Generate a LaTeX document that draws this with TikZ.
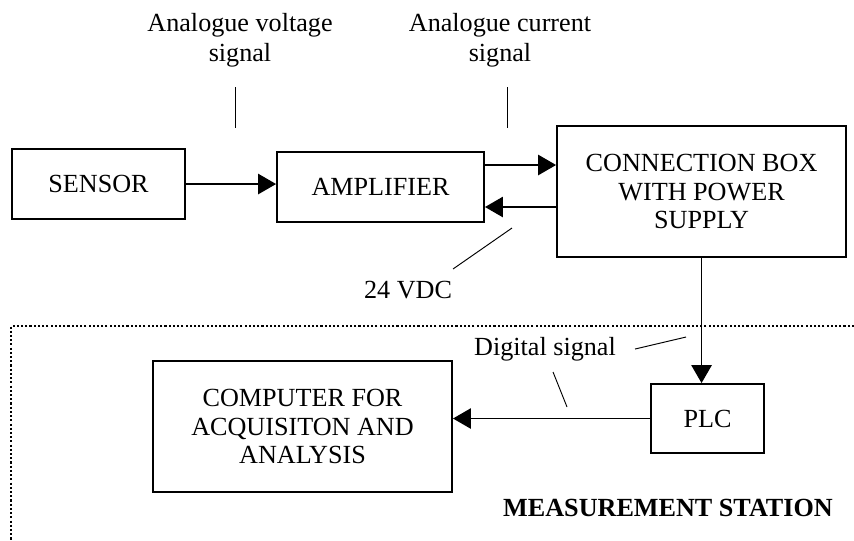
\documentclass[tikz,border=0pt]{standalone}
\usepackage{fontspec}
\setmainfont{Liberation Serif}
\usetikzlibrary{arrows.meta}
\tikzset{
  blk/.style={rectangle, draw, line width=0.9pt, align=center,
              font=\fontsize{12.4}{13.6}\selectfont, inner sep=2pt},
  arr/.style={-{Triangle[length=0.3cm, width=0.34cm]}, line width=0.7pt},
  lbl/.style={align=center, font=\fontsize{12.4}{14.2}\selectfont, inner sep=0pt},
  ptr/.style={line width=0.45pt},
  zone/.style={densely dotted, line width=1pt},
}

\begin{document}
\begin{tikzpicture}
  \useasboundingbox (0,0) rectangle (14.233,-9);
  % blocks
  \node[blk, minimum width=2.883cm, minimum height=1.167cm] (sensor) at (1.642,-3.067) {SENSOR};
  \node[blk, minimum width=3.45cm, minimum height=1.167cm] (amp) at (6.342,-3.117) {AMPLIFIER};
  \node[blk, minimum width=4.817cm, minimum height=2.183cm] (conn) at (11.692,-3.192)
    {CONNECTION BOX\\WITH POWER\\SUPPLY};
  \node[blk, minimum width=1.883cm, minimum height=1.15cm] (plc) at (11.792,-6.975) {PLC};
  \node[blk, minimum width=4.983cm, minimum height=2.183cm] (comp) at (5.042,-7.108)
    {COMPUTER FOR\\ACQUISITON AND\\ANALYSIS};

  % signal flow
  \coordinate (ampup) at ([yshift=0.367cm]amp.east);
  \coordinate (ampdn) at ([yshift=-0.333cm]amp.east);
  \draw[arr] (sensor.east) -- (sensor.east -| amp.west);
  \draw[arr] (ampup) -- (ampup -| conn.west);
  \draw[arr] (ampdn -| conn.west) -- (ampdn);
  \draw[arr] (conn.south) -- (conn.south |- plc.north);
  \draw[arr] (plc.west) -- (plc.west -| comp.east);

  % measurement station frame
  \draw[zone] (14.233,-5.433) -- (0.183,-5.433) -- (0.183,-9);
  \node[lbl, font=\fontsize{12.4}{14.2}\selectfont\bfseries] (station) at (11.133,-8.467) {MEASUREMENT STATION};

  % labels and pointers
  \node[lbl] (vlab) at (4.0,-0.667) {Analogue voltage\\signal};
  \node[lbl] (clab) at (8.333,-0.667) {Analogue current\\signal};
  \node[lbl] (vdc) at (6.8,-4.833) {24 VDC};
  \node[lbl] (dig) at (9.083,-5.817) {Digital signal};
  \coordinate (v1) at (3.917,-1.45);   \coordinate (v2) at (3.917,-2.133);
  \coordinate (c1) at (8.45,-1.45);    \coordinate (c2) at (8.45,-2.133);
  \coordinate (p1) at (7.55,-4.483);   \coordinate (p2) at (8.533,-3.8);
  \coordinate (d1) at (10.583,-5.817); \coordinate (d2) at (11.433,-5.617);
  \coordinate (d3) at (9.217,-6.2);    \coordinate (d4) at (9.45,-6.783);
  \draw[ptr] (v1) -- (v2);
  \draw[ptr] (c1) -- (c2);
  \draw[ptr] (p1) -- (p2);
  \draw[ptr] (d1) -- (d2);
  \draw[ptr] (d3) -- (d4);
\end{tikzpicture}
\end{document}
